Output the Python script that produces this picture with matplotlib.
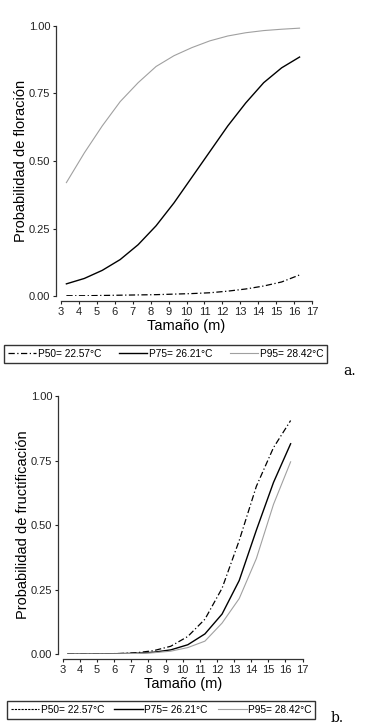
"""Two-panel logistic probability curves: flowering (a) and fruiting (b) vs. size."""
import matplotlib
matplotlib.use("Agg")
import matplotlib.pyplot as plt
from matplotlib.lines import Line2D

plt.rcParams.update({
    "font.family": "sans-serif",
    "font.sans-serif": ["Liberation Sans", "DejaVu Sans"],
    "font.size": 8,
})

# --- data ------------------------------------------------------------------
tamano = [3.3, 4.3, 5.3, 6.3, 7.3, 8.3, 9.3, 10.3, 11.3, 12.3, 13.3, 14.3, 15.3, 16.3]

flor_p50 = [0.001, 0.001, 0.002, 0.003, 0.004, 0.005, 0.007, 0.009, 0.012, 0.018,
            0.026, 0.037, 0.052, 0.078]
flor_p75 = [0.045, 0.065, 0.095, 0.135, 0.19, 0.26, 0.345, 0.44, 0.535, 0.63,
            0.715, 0.79, 0.845, 0.885]
flor_p95 = [0.42, 0.53, 0.63, 0.72, 0.79, 0.85, 0.89, 0.92, 0.945, 0.963,
            0.975, 0.983, 0.988, 0.992]

fruc_p50 = [0.0, 0.0005, 0.001, 0.002, 0.005, 0.013, 0.03, 0.068, 0.135, 0.255,
            0.44, 0.65, 0.80, 0.905]
fruc_p75 = [0.0, 0.0003, 0.0007, 0.0015, 0.003, 0.007, 0.016, 0.036, 0.078, 0.155,
            0.285, 0.48, 0.665, 0.815]
fruc_p95 = [0.0, 0.0002, 0.0004, 0.0008, 0.002, 0.005, 0.011, 0.025, 0.05, 0.12,
            0.215, 0.37, 0.58, 0.745]

labels = ["P50= 22.57°C", "P75= 26.21°C", "P95= 28.42°C"]
xticks = list(range(3, 18))
yticks = [0.0, 0.25, 0.5, 0.75, 1.0]

GRAY = "#a0a0a0"
DASHDOT = (0, (5, 2, 1, 2))


def style_axes(ax, ylabel):
    ax.set_xlim(3, 17)
    ax.set_ylim(0, 1)
    ax.set_xticks(xticks)
    ax.set_yticks(yticks)
    ax.set_yticklabels([f"{t:.2f}" for t in yticks])
    for s in ("top", "right"):
        ax.spines[s].set_visible(False)
    ax.spines["left"].set_position(("outward", 3.6))
    ax.spines["bottom"].set_position(("outward", 3.6))
    for s in ("left", "bottom"):
        ax.spines[s].set_linewidth(0.9)
        ax.spines[s].set_color("#333333")
    ax.tick_params(length=2.5, width=0.8, labelsize=8, pad=1.5, colors="#222222")
    ax.set_xlabel("Tamaño (m)", fontsize=10.5, labelpad=2)
    ax.set_ylabel(ylabel, fontsize=10.5, labelpad=0.5)


fig = plt.figure(figsize=(3.72, 7.28), dpi=100)

# panel a
ax1 = fig.add_axes([0.164, 0.5934, 0.675, 0.3709])
ax1.plot(tamano, flor_p50, color="black", lw=0.9, ls=DASHDOT)
ax1.plot(tamano, flor_p75, color="black", lw=1.0)
ax1.plot(tamano, flor_p95, color=GRAY, lw=0.8)
style_axes(ax1, "Probabilidad de floración")

# panel b
ax2 = fig.add_axes([0.1685, 0.1016, 0.645, 0.3544])
ax2.plot(tamano, fruc_p50, color="black", lw=0.9, ls=DASHDOT)
ax2.plot(tamano, fruc_p75, color="black", lw=1.0)
ax2.plot(tamano, fruc_p95, color=GRAY, lw=0.8)
style_axes(ax2, "Probabilidad de fructificación")

# legends (boxed, three columns, below each panel)
handles_a = [Line2D([], [], color="black", lw=0.9, ls=DASHDOT),
             Line2D([], [], color="black", lw=1.0),
             Line2D([], [], color=GRAY, lw=0.8)]
handles_b = [Line2D([], [], color="black", lw=0.8, ls=(0, (2, 1))),
             Line2D([], [], color="black", lw=1.0),
             Line2D([], [], color=GRAY, lw=0.8)]

for handles, box in ((handles_a, (0.011, 0.500, 0.868, 0.0275)),
                     (handles_b, (0.019, 0.0124, 0.828, 0.0246))):
    leg = fig.legend(handles, labels, ncol=3, loc="center",
                     bbox_to_anchor=box, mode="expand", fontsize=7.3,
                     handlelength=2.8, handletextpad=0.15, borderpad=0.35,
                     borderaxespad=0, columnspacing=0.5, fancybox=False,
                     framealpha=1)
    leg.get_frame().set_edgecolor("#333333")
    leg.get_frame().set_linewidth(1.0)

fig.text(0.94, 0.49, "a.", fontsize=10, family="DejaVu Serif", ha="center", va="center")
fig.text(0.905, 0.004, "b.", fontsize=10, family="DejaVu Serif", ha="center", va="bottom")

fig.savefig("out.png", dpi=100)
